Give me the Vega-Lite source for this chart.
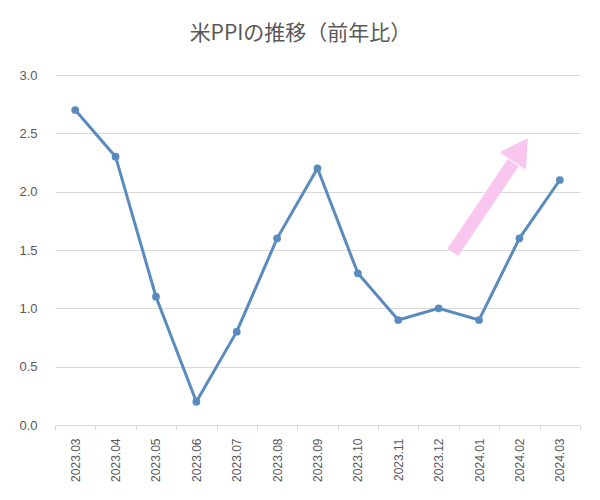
{
  "$schema": "https://vega.github.io/schema/vega-lite/v6.json",
  "width": 525,
  "height": 350,
  "autosize": {"type": "none"},
  "padding": {"left": 55, "top": 75, "right": 20, "bottom": 75},
  "background": "white",
  "title": {
    "text": "米PPIの推移（前年比）",
    "font": "Noto Sans CJK JP",
    "fontSize": 21,
    "fontWeight": "normal",
    "color": "#595959",
    "anchor": "middle",
    "dx": -17,
    "offset": 25
  },
  "config": {
    "view": {"stroke": null},
    "axis": {"labelFont": "Liberation Sans", "labelColor": "#595959", "titleColor": "#595959"}
  },
  "layer": [
    {
      "data": {
        "values": [
          {"month": "2023.03", "ppi": 2.7},
          {"month": "2023.04", "ppi": 2.3},
          {"month": "2023.05", "ppi": 1.1},
          {"month": "2023.06", "ppi": 0.2},
          {"month": "2023.07", "ppi": 0.8},
          {"month": "2023.08", "ppi": 1.6},
          {"month": "2023.09", "ppi": 2.2},
          {"month": "2023.10", "ppi": 1.3},
          {"month": "2023.11", "ppi": 0.9},
          {"month": "2023.12", "ppi": 1.0},
          {"month": "2024.01", "ppi": 0.9},
          {"month": "2024.02", "ppi": 1.6},
          {"month": "2024.03", "ppi": 2.1}
        ]
      },
      "mark": {"type": "line", "color": "#5A8BBF", "strokeWidth": 3, "point": {"filled": true, "size": 60, "color": "#5A8BBF"}},
      "encoding": {
        "x": {
          "field": "month", "type": "nominal", "sort": null, "bandPosition": 0.5,
          "scale": {"type": "band", "paddingInner": 0, "paddingOuter": 0},
          "axis": {
            "title": null, "labelAngle": -90, "labelFontSize": 12, "labelPadding": 8,
            "tickBand": "extent", "tickSize": 5, "tickColor": "#d9d9d9",
            "domainColor": "#d9d9d9", "grid": false
          }
        },
        "y": {
          "field": "ppi", "type": "quantitative",
          "scale": {"domain": [0, 3]},
          "axis": {
            "title": null, "values": [0, 0.5, 1, 1.5, 2, 2.5, 3], "format": ".1f",
            "labelFontSize": 13, "labelPadding": 18, "ticks": false, "domain": false,
            "gridColor": "#d9d9d9", "gridWidth": 1
          }
        }
      }
    },
    {
      "data": {
        "values": [
          {"part": "shaft", "x": 9.35, "y": 1.48, "x2": 10.85, "y2": 2.25},
          {"part": "head", "x": 11.02, "y": 2.36}
        ]
      },
      "layer": [
        {
          "transform": [{"filter": "datum.part === 'shaft'"}],
          "mark": {"type": "rule", "color": "#F8C6EF", "strokeWidth": 13, "strokeCap": "butt"},
          "encoding": {
            "x": {"field": "x", "type": "quantitative", "scale": {"domain": [-0.5, 12.5]}, "axis": null},
            "y": {"field": "y", "type": "quantitative", "scale": {"domain": [0, 3]}},
            "x2": {"field": "x2"},
            "y2": {"field": "y2"}
          }
        },
        {
          "transform": [{"filter": "datum.part === 'head'"}],
          "mark": {"type": "point", "shape": "triangle-up", "filled": true, "color": "#F8C6EF", "opacity": 1, "size": 1000, "angle": 33.5},
          "encoding": {
            "x": {"field": "x", "type": "quantitative", "scale": {"domain": [-0.5, 12.5]}, "axis": null},
            "y": {"field": "y", "type": "quantitative", "scale": {"domain": [0, 3]}}
          }
        }
      ]
    }
  ],
  "resolve": {"scale": {"x": "independent"}}
}
